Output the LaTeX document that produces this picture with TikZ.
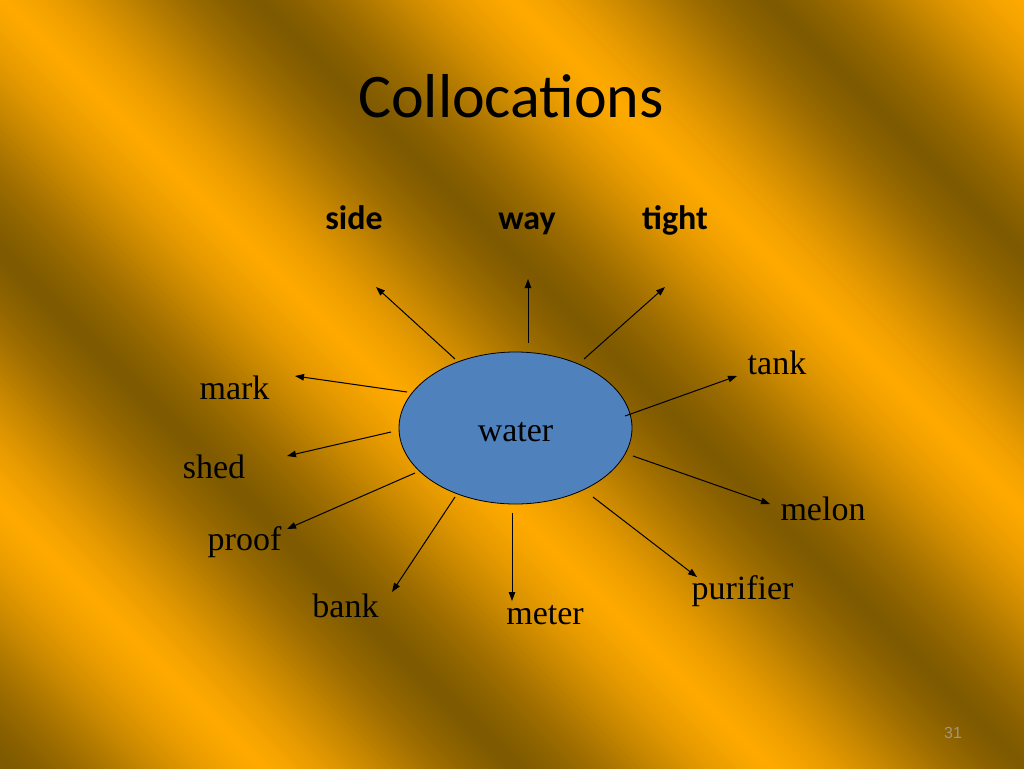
\documentclass[tikz,border=0pt]{standalone}
\usepackage{fontspec}
\setmainfont{Liberation Serif}
\newfontfamily\calib{Carlito}
\newfontfamily\arialf{Liberation Sans}
\usetikzlibrary{arrows.meta,shapes.geometric}
\definecolor{ovalblue}{RGB}{79,129,189}
\definecolor{pagegray}{RGB}{160,150,130}
\begin{document}
\begin{tikzpicture}[x=1pt,y=-1pt,
  ray/.style={-{Triangle[length=9pt,width=6.5pt]}, line width=1pt, black},
  lbl/.style={font=\fontsize{34}{40}\selectfont, anchor=base, inner sep=0pt},
  blbl/.style={font=\calib\bfseries\fontsize{34}{40}\selectfont, anchor=base, inner sep=0pt}]
\useasboundingbox (0,0) rectangle (1024,768);
% background bands
\begin{scope}
\clip (0,0) rectangle (1024,768);
\foreach \s in {-1040,-1036,...,780}{
  \pgfmathsetmacro{\tpos}{mod(\s+5+5100,510)/510}
  \pgfmathsetmacro{\trl}{1-abs(2*\tpos-1)}
  \pgfmathsetmacro{\tri}{0.5*\trl+0.25*(1-cos(180*\trl))}
  \pgfmathtruncatemacro{\rr}{255-128*\tri}
  \pgfmathtruncatemacro{\gg}{170-80*\tri}
  \definecolor{bandc}{RGB}{\rr,\gg,0}
  \fill[bandc] (-800,-800+\s) -- (1900,1900+\s) -- (1900,1905+\s) -- (-800,-795+\s) -- cycle;
}
\end{scope}
% title
\node[font=\calib\fontsize{62}{70}\selectfont, anchor=base, inner sep=0pt] (title) at (511,117) {Collocations};
% central oval
\node[ellipse, draw=black, line width=0.8pt, fill=ovalblue, minimum width=233pt, minimum height=152pt,
      inner sep=0pt, text height=26pt, text depth=0pt, font=\fontsize{34}{40}\selectfont] (water) at (515.5,428) {water};
% labels
\node[blbl] (side) at (354,229) {side};
\node[blbl] (way) at (527,229) {way};
\node[blbl] (tight) at (675,229) {tight};
\node[lbl] (tank) at (777,374) {tank};
\node[lbl] (melon) at (823,520) {melon};
\node[lbl] (purifier) at (742.5,599) {purifier};
\node[lbl] (meter) at (545,624) {meter};
\node[lbl] (bank) at (345.5,617) {bank};
\node[lbl] (proof) at (244.5,550) {proof};
\node[lbl] (shed) at (214,478) {shed};
\node[lbl] (mark) at (234.5,399) {mark};
\node[font=\arialf\fontsize{16}{19}\selectfont, text=pagegray, anchor=base, inner sep=0pt] (page) at (953,738) {31};
% arrow end points
\coordinate (s1) at (455,359); \coordinate (t1) at (376,287);
\coordinate (s2) at (528,343); \coordinate (t2) at (528,279);
\coordinate (s3) at (584,359); \coordinate (t3) at (665,287);
\coordinate (s4) at (625,416); \coordinate (t4) at (737,376);
\coordinate (s5) at (633,456); \coordinate (t5) at (770,504);
\coordinate (s6) at (593,497); \coordinate (t6) at (697,577);
\coordinate (s7) at (512,513); \coordinate (t7) at (512,601);
\coordinate (s8) at (455,497); \coordinate (t8) at (392,592);
\coordinate (s9) at (415,473); \coordinate (t9) at (287,529);
\coordinate (s10) at (391,432); \coordinate (t10) at (287,456);
\coordinate (s11) at (407,392); \coordinate (t11) at (295,376);
\foreach \i in {1,...,11}{ \draw[ray] (s\i) -- (t\i); }
\end{tikzpicture}
\end{document}
